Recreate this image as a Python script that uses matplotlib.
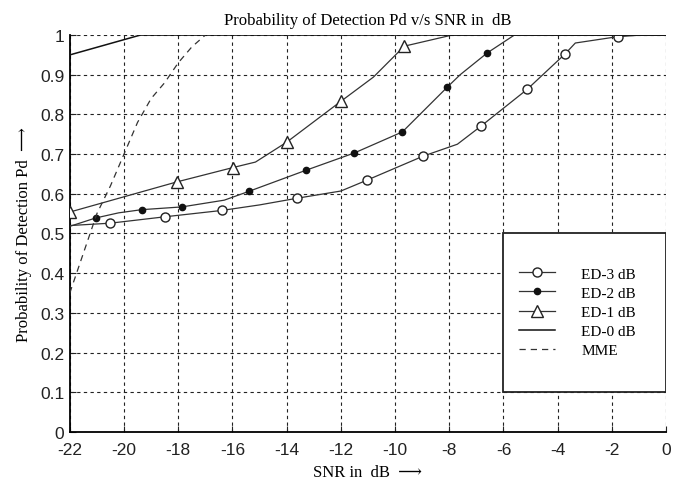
import matplotlib.pyplot as plt
from matplotlib.patches import Rectangle

# ED-3 dB (open circles)
ed3_x = [-22, -20.5, -18.5, -16.4, -15, -13.6, -12, -11.05, -8.96, -7.7, -6.84, -5.13, -3.72, -3.35, -1.79, -0.9, 0]
ed3_y = [0.52, 0.526, 0.542, 0.558, 0.572, 0.589, 0.607, 0.634, 0.695, 0.725, 0.77, 0.863, 0.953, 0.98, 0.996, 1.0, 1.0]
ed3_mk = [1, 2, 3, 5, 7, 8, 10, 11, 12, 14]

# ED-2 dB (filled dots)
ed2_x = [-22, -21.05, -20.2, -19.35, -17.86, -16.3, -15.4, -13.3, -11.5, -9.73, -8.07, -7.6, -6.6, -5.6, 0]
ed2_y = [0.518, 0.539, 0.552, 0.56, 0.567, 0.584, 0.606, 0.659, 0.703, 0.756, 0.869, 0.9, 0.955, 1.0, 1.0]
ed2_mk = [1, 3, 4, 6, 7, 8, 9, 10, 12]

# ED-1 dB (open triangles)
ed1_x = [-22, -18.05, -15.99, -15.15, -14.0, -12.0, -10.8, -9.66, -7.9, 0]
ed1_y = [0.554, 0.630, 0.666, 0.680, 0.730, 0.833, 0.894, 0.972, 1.0, 1.0]
ed1_mk = [0, 1, 2, 4, 5, 7]

# ED-0 dB (solid line)
ed0_x = [-22, -19.4, 0]
ed0_y = [0.95, 1.0, 1.0]

# MME (dashed)
mme_x = [-22, -21.5, -21, -20.5, -20, -19.5, -19, -18.5, -18, -17.5, -17.0]
mme_y = [0.35, 0.45, 0.55, 0.62, 0.70, 0.78, 0.84, 0.88, 0.93, 0.97, 1.0]

xticks = list(range(-22, 1, 2))
yticks = [round(0.1 * i, 1) for i in range(11)]
ytick_labels = ['0', '0.1', '0.2', '0.3', '0.4', '0.5', '0.6', '0.7', '0.8', '0.9', '1']

serif = ['Liberation Serif', 'DejaVu Serif']
plt.rcParams['font.family'] = ['Liberation Sans', 'DejaVu Sans']
plt.rcParams['axes.unicode_minus'] = False

fig = plt.figure(figsize=(6.91, 4.81), dpi=100)
ax = fig.add_axes([0.101, 0.100, 0.863, 0.825])

lc = '#333333'
ax.plot(ed3_x, ed3_y, color=lc, lw=0.9, marker='o', markevery=ed3_mk, ms=6.5,
        mfc='white', mec='#222222', mew=1.0, label='ED-3 dB', zorder=3)
ax.plot(ed2_x, ed2_y, color=lc, lw=0.9, marker='o', markevery=ed2_mk, ms=4.5,
        mfc='#111111', mec='#111111', label='ED-2 dB', zorder=3)
ax.plot(ed1_x, ed1_y, color=lc, lw=0.9, marker='^', markevery=ed1_mk, ms=8,
        mfc='white', mec='#222222', mew=1.0, label='ED-1 dB', zorder=3)
ax.plot(ed0_x, ed0_y, color='#111111', lw=1.1, label='ED-0 dB', zorder=3)
ax.plot(mme_x, mme_y, color='#333333', lw=0.9, ls=(0, (5, 4)), label='MME', zorder=3)

ax.set_xlim(-22, 0)
ax.set_ylim(0, 1)
ax.set_xticks(xticks)
ax.set_yticks(yticks)
ax.set_yticklabels(ytick_labels)
ax.tick_params(direction='in', length=4, labelsize=12.5, colors='#222222')
ax.tick_params(axis='x', pad=7)
ax.tick_params(axis='y', pad=4)
ax.grid(True, color='#222222', ls=(0, (3, 3)), lw=0.8)
for s in ['top', 'right']:
    ax.spines[s].set_visible(False)
for s in ['left', 'bottom']:
    ax.spines[s].set_linewidth(1.3)

ax.set_title('Probability of Detection Pd v/s SNR in  dB', family=serif, fontsize=12, pad=8)
ax.set_xlabel('SNR in  dB  \u27f6', family=serif, fontsize=12, labelpad=5)
ax.set_ylabel('Probability of Detection Pd  \u27f6', family=serif, fontsize=12, labelpad=6)

# legend box larger than its content
box = Rectangle((-6, 0.1), 6, 0.4, facecolor='white', edgecolor='#222222', lw=1.3, zorder=4)
ax.add_patch(box)
leg = ax.legend(loc='upper left', bbox_to_anchor=(0.74, 0.435), frameon=False,
                prop={'family': serif, 'size': 11}, handlelength=2.4,
                labelspacing=0.36, handletextpad=1.7, borderpad=0)
leg.set_zorder(5)

fig.savefig('out.png', dpi=100)
